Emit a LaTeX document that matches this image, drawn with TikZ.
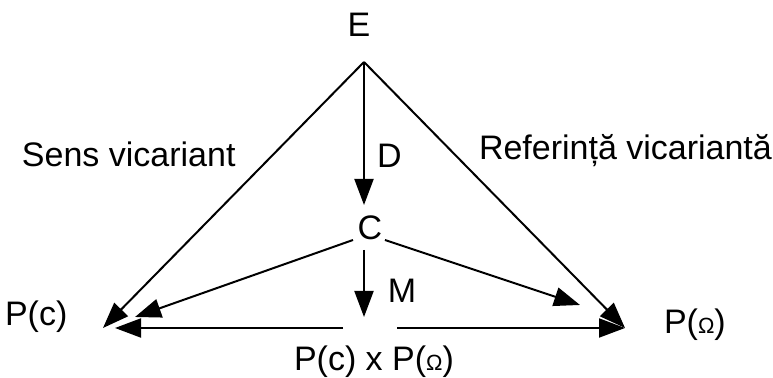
\documentclass[tikz,border=0pt]{standalone}
\usepackage{fontspec}
\setmainfont{Liberation Sans}
\usetikzlibrary{arrows.meta}
\newcommand{\smallomega}{{\fontsize{11}{13}\selectfont\char"03A9}}
\begin{document}
\begin{tikzpicture}[x=0.5pt,y=-0.5pt,
  lbl/.style={font=\fontsize{17}{20}\selectfont, inner sep=0pt, outer sep=0pt},
  arr/.style={line width=1pt, -{Triangle[length=13pt,width=9.5pt]}},
  ln/.style={line width=1pt}]
\useasboundingbox (0,0) rectangle (773,378);
% labels
\node[lbl, anchor=base] (E) at (359,37) {E};
\node[lbl, anchor=base west] (sens) at (22,167) {Sens vicariant};
\node[lbl, anchor=base west] (ref) at (479,160) {Referință vicariantă};
\node[lbl, anchor=base west] (D) at (377,168) {D};
\node[lbl, anchor=base] (C) at (370,240) {C};
\node[lbl, anchor=base] (M) at (402,303) {M};
\node[lbl, anchor=base west] (Pc) at (5,326) {P(c)};
\node[lbl, anchor=base west] (PO) at (664,334) {P(\smallomega)};
\node[lbl, anchor=base west] (PP) at (294,371) {P(c) x P(\smallomega)};
% connector points
\coordinate (apex) at (364,62);
\coordinate (leftTip) at (103,328);
\coordinate (rightTip) at (625,328);
\coordinate (Dtip) at (364,205);
\coordinate (Cl) at (353,240);
\coordinate (Cr) at (385,240);
\coordinate (ClTip) at (135,317);
\coordinate (CrTip) at (580,305);
\coordinate (Mtop) at (364,250);
\coordinate (Mtip) at (364,317);
\coordinate (hl) at (343,328);
\coordinate (hlTip) at (115,328);
\coordinate (hr) at (397,328);
% connectors
\draw[arr] (apex) -- (leftTip);
\draw[arr] (apex) -- (rightTip);
\draw[arr] (apex) -- (Dtip);
\draw[arr] (Cl) -- (ClTip);
\draw[arr] (Cr) -- (CrTip);
\draw[arr] (Mtop) -- (Mtip);
\draw[arr] (hl) -- (hlTip);
\draw[arr] (hr) -- (rightTip);
\end{tikzpicture}
\end{document}
